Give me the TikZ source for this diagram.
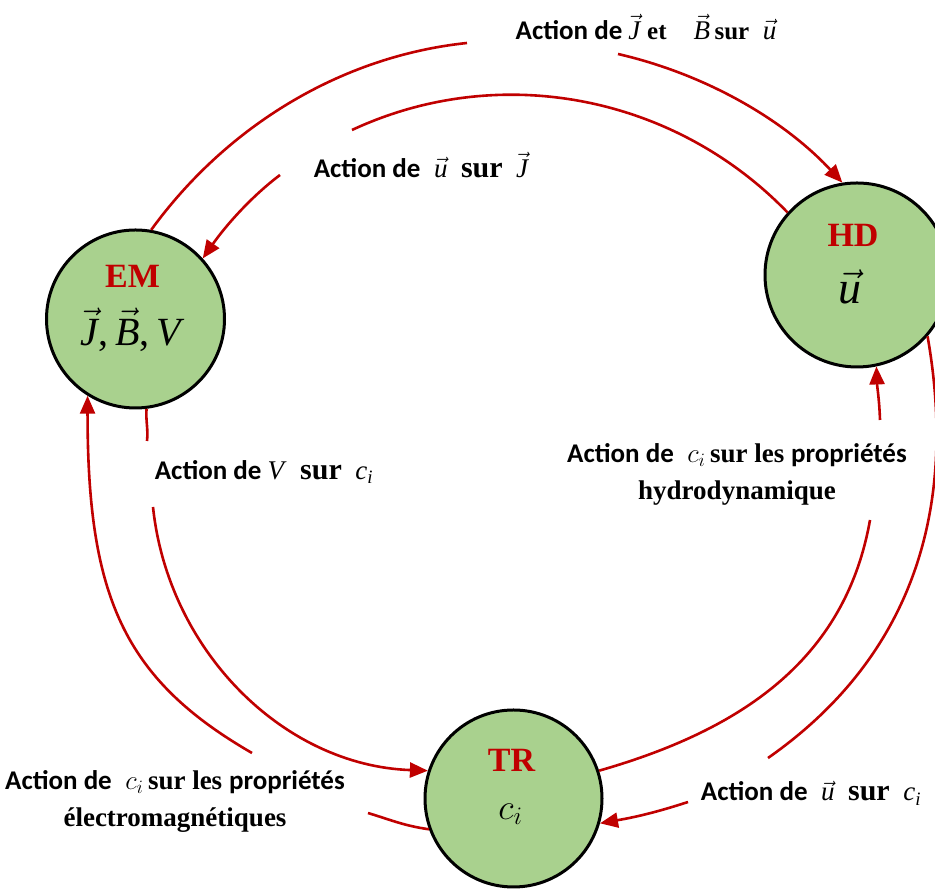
\RequirePackage{fix-cm}
\documentclass[tikz,border=0pt]{standalone}
\usepackage{fontspec}
\setmainfont{Liberation Serif}
\newfontfamily\calib{Carlito}
\usetikzlibrary{arrows.meta,calc}
\definecolor{dred}{HTML}{C00000}
\definecolor{lgreen}{HTML}{A9D18E}
\newcommand\vv[1]{\ensuremath{\vec{\mbox{\itshape #1}}}}
\newcommand\ci{\textit{c}\textsubscript{\textit{i}}}
\begin{document}
\begin{tikzpicture}[x=1pt,y=1pt,
  bubble/.style={circle,draw=black,line width=3pt,fill=lgreen,inner sep=0pt,minimum size=178pt},
  conn/.style={draw=dred,line width=2.6pt},
  arr/.style={conn,-{Triangle[length=18pt,width=15pt]}},
  ttl/.style={text=dred,font=\fontsize{34}{40}\selectfont\bfseries,inner sep=0pt},
  big/.style={inner sep=0pt},
  lab/.style={font=\fontsize{27}{37}\selectfont,inner sep=0pt,align=center}]
\useasboundingbox (0,0) rectangle (935,893);
% nodes
\node[bubble] (EM) at (135.5,574) {};
\node[bubble,minimum size=184pt] (HD) at (857,618) {};
\node[bubble,minimum size=177pt] (TR) at (513.5,94.5) {};
\node[ttl] (EMt) at ($(EM)+(-3,43)$) {EM};
\node[big,font=\fontsize{40}{48}\selectfont] (EMv) at ($(EM)+(-3,-11)$) {\vv{J},\,\vv{B},\,\textit{V}};
\node[ttl] (HDt) at ($(HD)+(-4,40)$) {HD};
\node[big,font=\fontsize{46}{50}\selectfont] (HDv) at ($(HD)+(-7,-12)$) {\vv{u}};
\node[ttl] (TRt) at ($(TR)+(-2,38)$) {TR};
\node[big,font=\fontsize{36}{44}\selectfont] (TRv) at ($(TR)+(-3,-16)$) {$c_i$};
% gap ends
\coordinate (g1a) at (467,850); \coordinate (g1b) at (618,839);
\coordinate (g2a) at (352,763); \coordinate (g2b) at (280,718);
\coordinate (g3a) at (147,452); \coordinate (g3b) at (153,386);
\coordinate (g4a) at (368,80);  \coordinate (g4b) at (252,140);
\coordinate (g5a) at (870,373); \coordinate (g5b) at (880,473);
\coordinate (g6a) at (768,135); \coordinate (g6b) at (688,91);
% connectors
\draw[conn] (EM.80) to[out=54,in=186,looseness=0.89] (g1a);
\draw[arr] (g1b) to[out=-13,in=133,looseness=0.87] (HD.99);
\draw[conn] (HD.138) to[out=134,in=25,looseness=0.94] (g2a);
\draw[arr] (g2b) to[out=217,in=55,looseness=0.85] (EM.42);
\draw[conn] (EM.277) to[out=266,in=84] (g3a);
\draw[arr] (g3b) to[out=276,in=178,looseness=0.97] (TR.162);
\draw[conn] (TR.200) to[out=172,in=343] (g4a);
\draw[arr] (g4b) to[out=150,in=270,out looseness=0.97,in looseness=1.3] (EM.238);
\draw[conn] (TR.18) to[out=16,in=260] (g5a);
\draw[arr] (g5b) to[out=92,in=272] (HD.282);
\draw[conn] (HD.319) to[out=280,in=35] (g6a);
\draw[arr] (g6b) to[out=198,in=10] (TR.344);
% labels
\node[lab] (L1) at (646,866) {{\calib\bfseries Action de }\vv{J}\ {\fontsize{25}{30}\selectfont\bfseries et}\quad\vv{B}\,{\fontsize{25}{30}\selectfont\bfseries sur}\ \ \vv{u}};
\node[lab] (L2) at (421,728) {{\calib\bfseries Action de}\ \ \vv{u}\ \ {\fontsize{30}{30}\selectfont\bfseries sur}\ \ \vv{J}};
\node[lab] (L3) at (264,421) {{\calib\bfseries Action de }\textit{V}\ \ {\fontsize{30}{30}\selectfont\bfseries sur}\ \ \ci};
\node[lab] (L4) at (737,419) {{\calib\bfseries Action de}\ \ $c_i$\,\textbf{sur les} {\calib\bfseries propriétés}\\ \textbf{hydrodynamique}};
\node[lab] (L5) at (175,92) {{\calib\bfseries Action de}\ \ $c_i$\,\textbf{sur les} {\calib\bfseries propriétés}\\ \textbf{électromagnétiques}};
\node[lab] (L6) at (811,100) {{\calib\bfseries Action de}\ \ \vv{u}\ \ {\fontsize{30}{30}\selectfont\bfseries sur}\ \ \ci};
\end{tikzpicture}
\end{document}
